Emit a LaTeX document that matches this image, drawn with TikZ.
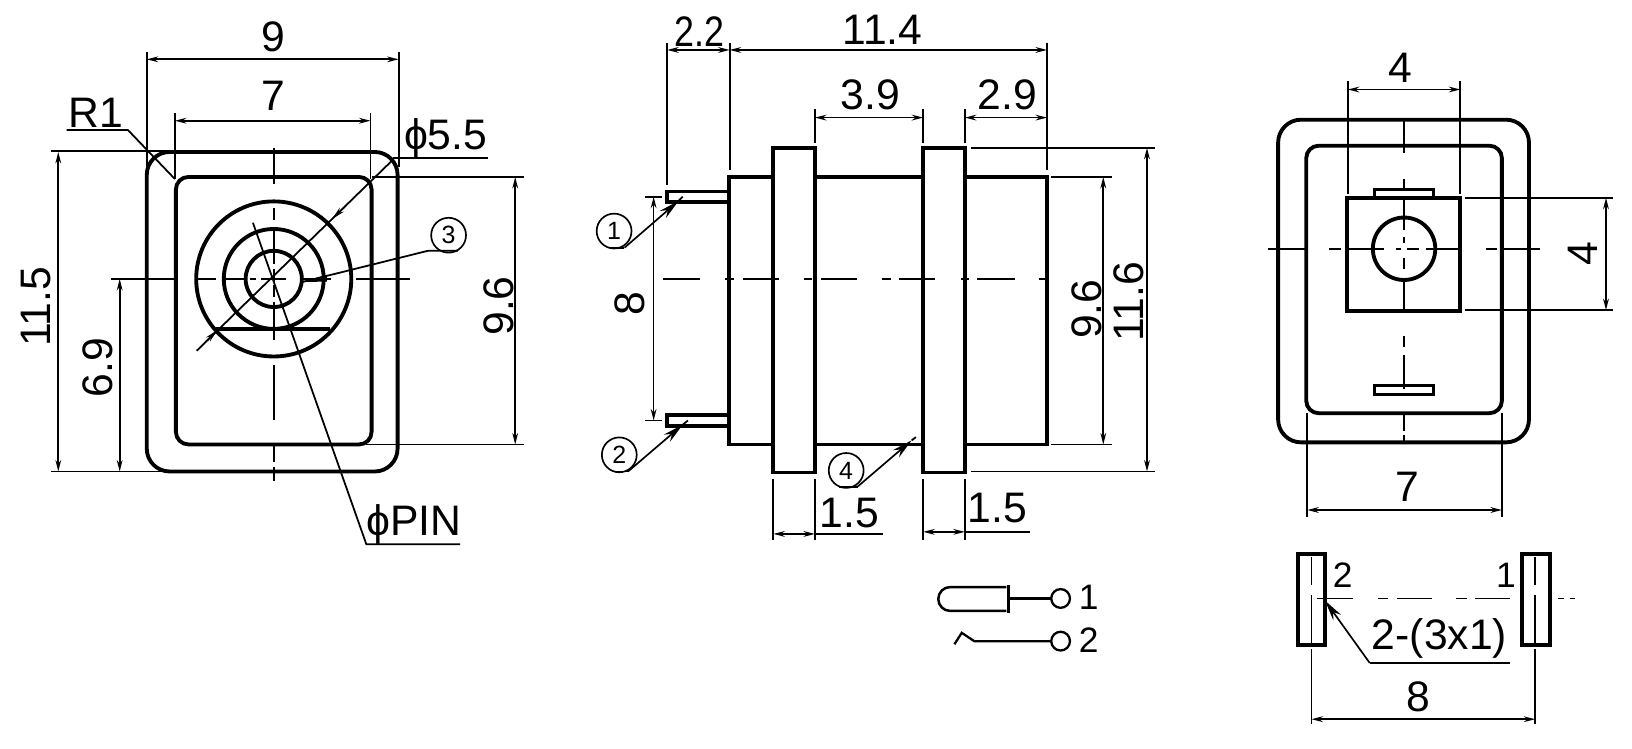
\documentclass[tikz,border=0pt]{standalone}
\usepackage{fontspec}
\setmainfont{Liberation Sans}
\usetikzlibrary{arrows.meta}
\tikzset{
 ol/.style={line width=3.7pt,black},
 thin1/.style={line width=1.7pt,black},
 cl/.style={line width=1.8pt,black},
 dimln/.style={line width=1.6pt,black,{Stealth[length=11pt,width=5.5pt]}-{Stealth[length=11pt,width=5.5pt]}},
 lead/.style={line width=1.6pt,black,-{Stealth[length=20pt,width=9pt]}},
 big/.style={inner sep=0pt,font=\fontsize{41}{41}\selectfont},
 mid/.style={inner sep=0pt,font=\fontsize{34}{34}\selectfont},
 num/.style={circle,draw,line width=1.6pt,minimum size=33.5pt,inner sep=0pt,font=\fontsize{24}{24}\selectfont},
}
\begin{document}
\begin{tikzpicture}[x=1pt,y=-1pt]
\fill[white] (0,0) rectangle (1568,719);
\useasboundingbox (0,0) rectangle (1568,719);
% ---------- left view
\draw[ol,rounded corners=22pt] (141,146) rectangle (382,453);
\draw[ol,rounded corners=12pt] (169,170) rectangle (357,427);
\coordinate (c1) at (263,268);
\draw[ol] (c1) circle (74.5pt);
\draw[ol] (c1) circle (48pt);
\draw[ol] (c1) circle (27pt);
\draw[ol] (208,316) -- (317,316);
\foreach \a/\b in {107/169,190/208,214/234,240/246,251/275,290/318,342/352,352/394}
  \draw[cl] (\a,268) -- (\b,268);
\foreach \a/\b in {142/177,200/211,218/254,258/272,274/285,290/327,351/404,427/444,449/462}
  \draw[cl] (263,\a) -- (263,\b);
% dims
\draw[thin1] (141,50) -- (141,160);
\draw[thin1] (383,50) -- (383,160);
\draw[dimln] (141,57) -- (383,57);
\node[big] (t9) at (263,35) {9};
\draw[thin1] (168,109) -- (168,172);
\draw[thin1] (356,109) -- (356,172);
\draw[dimln] (168,116) -- (356,116);
\node[big] (t7a) at (263,92) {7};
\node[big] (tr1) at (92,108) {R1};
\draw[thin1] (64,125) -- (123,125) -- (168,172);
\node[big,anchor=west] (tphi) at (388,133) {ϕ5.5};
\draw[thin1] (378,152) -- (469,152);
\coordinate (dA) at (378,153);
\coordinate (dB) at (189,337);
\draw[thin1] (dA) -- (dB);
\draw[line width=1.4pt,-{Stealth[length=13pt,width=5.5pt]}] (333,197) -- (319,210.5);
\draw[line width=1.4pt,-{Stealth[length=13pt,width=5.5pt]}] (198,328) -- (209,317);
\node[num] (n3) at (431,226) {3};
\coordinate (p3) at (290,271);
\draw[thin1] (440,241) -- (411,241) -- (p3);
\fill (p3) -- (314,264) -- (314,270.5) -- cycle;
\draw[thin1] (243,214) -- (352,523) -- (442,523);
\node[big,anchor=west] (tpin) at (352,504) {ϕPIN};
\draw[thin1] (49,145) -- (165,145);
\draw[thin1] (49,453) -- (160,453);
\draw[dimln] (56,146) -- (56,453);
\node[big,rotate=90] (t115) at (35,295) {11.5};
\draw[dimln] (115,268) -- (115,453);
\node[big,rotate=90] (t69) at (94,353) {6.9};
\draw[thin1] (357,170) -- (503,170);
\draw[thin1] (352,427) -- (503,427);
\draw[dimln] (495,170) -- (495,427);
\node[big,rotate=90] (t96a) at (479,294) {9.6};
% ---------- middle view
\draw[ol] (700,170) rectangle (1006,427);
\draw[ol,fill=white] (743,142) rectangle (783,454);
\draw[ol,fill=white] (887,142) rectangle (927,454);
\draw[ol] (700,184) -- (641,184) -- (641,194) -- (700,194);
\draw[ol] (700,399) -- (641,399) -- (641,409) -- (700,409);
\foreach \a/\b in {637/673,697/705,714/748,772/780,789/823,847/856,864/898,923/931,939/975,998/1008}
  \draw[cl] (\a,268) -- (\b,268);
\draw[thin1] (641,41) -- (641,178);
\draw[thin1] (701,41) -- (701,163);
\draw[thin1] (1006,41) -- (1006,163);
\draw[dimln] (641,48) -- (701,48);
\node[big,xscale=.84] (t22) at (672,30) {2.2};
\draw[dimln] (701,48) -- (1006,48);
\node[big] (t114) at (848,29) {11.4};
\draw[thin1] (783,105) -- (783,137);
\draw[thin1] (887,105) -- (887,137);
\draw[thin1] (927,105) -- (927,137);
\draw[dimln] (783,113) -- (887,113);
\node[big] (t39) at (836,91) {3.9};
\draw[dimln] (927,113) -- (1006,113);
\node[big] (t29) at (968,91) {2.9};
\draw[thin1] (933,142) -- (1110,142);
\draw[thin1] (933,453) -- (1110,453);
\draw[dimln] (1102,142) -- (1102,453);
\node[big,rotate=90] (t116) at (1085,290) {11.6};
\draw[thin1] (1010,170) -- (1068,170);
\draw[thin1] (1010,427) -- (1068,427);
\draw[dimln] (1060,170) -- (1060,427);
\node[big,rotate=90] (t96b) at (1044,297) {9.6};
\draw[thin1] (620,189) -- (636,189);
\draw[thin1] (620,404) -- (636,404);
\draw[dimln] (628,189) -- (628,404);
\node[big,rotate=90] (t8a) at (605,292) {8};
\node[num] (n1) at (590,222) {1};
\draw[thin1] (586,238.5) -- (600,238.5);
\draw[lead] (600,238) -- (652,193);
\draw[thin1] (652,193) -- (656,189);
\node[num] (n2) at (595,437) {2};
\draw[thin1] (590,453) -- (604,453);
\draw[lead] (604,452.5) -- (656,408);
\draw[thin1] (656,408) -- (661,404);
\node[num] (n4) at (813,452) {4};
\draw[thin1] (806,468) -- (824,468);
\draw[lead] (824,467.5) -- (876,423);
\draw[thin1] (876,423) -- (880,420);
\draw[thin1] (743,460) -- (743,519);
\draw[thin1] (783,460) -- (783,519);
\draw[dimln] (743,513) -- (783,513);
\draw[thin1] (783,513) -- (848,513);
\node[big] (t15a) at (816,493) {1.5};
\draw[thin1] (887,460) -- (887,519);
\draw[thin1] (927,460) -- (927,519);
\draw[dimln] (887,511) -- (927,511);
\draw[thin1] (927,511) -- (990,511);
\node[big] (t15b) at (958,488) {1.5};
% ---------- right view
\draw[ol,rounded corners=22pt] (1228,115) rectangle (1469,425);
\draw[ol,rounded corners=12pt] (1255,140) rectangle (1443,397);
\draw[ol] (1294,190) rectangle (1403,299);
\draw[ol] (1349,239) circle (30pt);
\draw[line width=3pt] (1321,190) -- (1321,182) -- (1377,182) -- (1377,190);
\draw[line width=3pt] (1321,370) rectangle (1377,379);
\foreach \a/\b in {113/147,172/181,189/221,228/233,248/258,269/298,323/333,341/374,398/414,418/425}
  \draw[cl] (1349,\a) -- (1349,\b);
\foreach \a/\b in {1218/1254,1277/1288,1294/1330,1341/1346,1352/1363,1370/1405,1428/1438,1445/1480}
  \draw[cl] (\a,239) -- (\b,239);
\draw[thin1] (1295,78) -- (1295,186);
\draw[thin1] (1403,78) -- (1403,186);
\draw[dimln] (1295,86) -- (1403,86);
\node[big] (t4a) at (1345,65) {4};
\draw[thin1] (1408,190) -- (1550,190);
\draw[thin1] (1408,298) -- (1550,298);
\draw[dimln] (1543,190) -- (1543,298);
\node[big,rotate=90] (t4b) at (1521,244) {4};
\draw[thin1] (1256,397) -- (1256,497);
\draw[thin1] (1443,397) -- (1443,497);
\draw[dimln] (1256,490) -- (1443,490);
\node[big] (t7b) at (1352,468) {7};
% ---------- legend
\draw[line width=2.4pt] (967,564) -- (913,564) arc[start angle=90,end angle=270,radius=11.5pt] -- (967,587);
\draw[line width=3.2pt] (969,562) -- (969,589);
\draw[line width=2.2pt] (969,575) -- (1010,575);
\draw[line width=2.2pt] (1019,575) circle (9pt);
\node[mid] (l1) at (1046,574) {1};
\draw[line width=2.2pt] (917,619) -- (924,608) -- (936,616) -- (1010,616);
\draw[line width=2.2pt] (1019,616) circle (9pt);
\node[mid] (l2) at (1046,615) {2};
% ---------- pin view
\draw[ol] (1247,532) rectangle (1273,620);
\draw[ol] (1462,532) rectangle (1489,620);
\foreach \x in {1260,1475}{
  \draw[cl] (\x,535) -- (\x,562);
  \draw[cl] (\x,572) -- (\x,618);
}
\foreach \a/\b in {1265/1300,1324/1334,1342/1376,1399/1409,1417/1451,1497/1503,1508/1513}
  \draw[cl] (\a,575) -- (\b,575);
\node[mid] (p2) at (1290,553) {2};
\node[mid] (p1) at (1447,553) {1};
\node[big] (tpins) at (1383,613) {2-(3x1)};
\draw[thin1] (1451,637) -- (1316,637);
\draw[lead] (1316,637) -- (1273,577);
\draw[thin1] (1260,624) -- (1260,696);
\draw[thin1] (1475,624) -- (1475,696);
\draw[dimln] (1260,691) -- (1475,691);
\node[big] (t8b) at (1363,669) {8};
\end{tikzpicture}
\end{document}
